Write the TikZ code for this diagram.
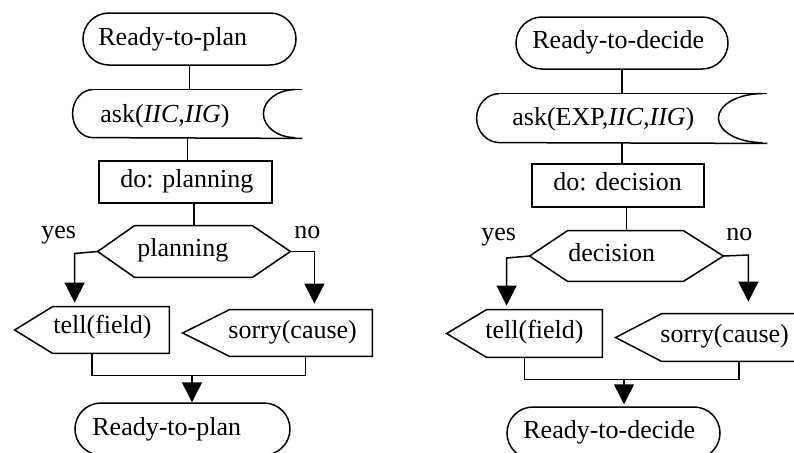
\documentclass[tikz,border=0pt]{standalone}
\usepackage{fontspec}
\setmainfont{Liberation Serif}
\usetikzlibrary{shapes.misc,arrows.meta,calc}

\tikzset{
  ln/.style={line width=0.75pt},
  term/.style={rounded rectangle, draw, ln, inner sep=0pt},
  box/.style={rectangle, draw, ln, inner sep=0pt},
  frame/.style={rectangle, inner sep=0pt, draw=none},
  txt/.style={inner sep=0pt, anchor=base west, font=\fontsize{13}{15}\selectfont},
  flow/.style={ln, -{Triangle[width=10pt,length=10pt]}},
}

\begin{document}
\begin{tikzpicture}[x=0.5pt, y=-0.5pt]
\useasboundingbox (0,0) rectangle (794,452);
\clip (0,0) rectangle (794,452);

% ---------------- planning flow ----------------
\node[term, minimum width=106.5pt, minimum height=26pt] (term1) at (189.5,39) {};
\node[frame, minimum width=114.5pt, minimum height=24pt] (ask1) at (187.5,114) {};
\node[box, minimum width=86.5pt, minimum height=21pt] (do1) at (185.5,182) {};
\node[frame, minimum width=96pt, minimum height=25.5pt] (hex1) at (194,251.5) {};
\node[frame, minimum width=77pt, minimum height=23pt] (tell1) at (92,330) {};
\node[frame, minimum width=94.5pt, minimum height=23pt] (sorry1) at (277.5,333) {};
\node[term, minimum width=107.5pt, minimum height=26pt] (term2) at (182.5,429) {};

% stored-data outline
\draw[ln] ($(ask1.north west)+(20,0)$) arc[start angle=90, end angle=270, x radius=10pt, y radius=12pt]
  -- (ask1.south east);
\draw[ln] ($(ask1.north west)+(20,0)$) -- (ask1.north east);
\draw[ln] ($(ask1.north east)+(-7,0)$) arc[start angle=90, end angle=270, x radius=16pt, y radius=12pt];
% decision hexagon
\draw[ln] (hex1.west) -- ($(hex1.north west)+(37,0)$) -- ($(hex1.north east)+(-38,0)$)
  -- (hex1.east) -- ($(hex1.south east)+(-38,0)$) -- ($(hex1.south west)+(37,0)$) -- cycle;
% output signals
\draw[ln] (tell1.west) -- ($(tell1.north west)+(38,0)$) -- (tell1.north east)
  -- (tell1.south east) -- ($(tell1.south west)+(38,0)$) -- cycle;
\draw[ln] (sorry1.west) -- ($(sorry1.north west)+(47,0)$) -- (sorry1.north east)
  -- (sorry1.south east) -- ($(sorry1.south west)+(47,0)$) -- cycle;

\node[txt] (term1-t) at (98,45) {Ready-to-plan};
\node[txt] (ask1-t) at (100,122) {ask(\textit{IIC},\textit{IIG})};
\node[txt] (do1-t) at (120,187) {do: planning};
\node[txt] (hex1-t) at (137,256) {planning};
\node[txt] (yes1) at (41,238) {yes};
\node[txt] (no1) at (294,238) {no};
\node[txt] (tell1-t) at (53,333) {tell(field)};
\node[txt] (sorry1-t) at (228,338) {sorry(cause)};
\node[txt] (term2-t) at (92,435) {Ready-to-plan};

\draw[ln] (term1.south) -- (term1.south |- ask1.north);
\draw[ln] (ask1.south) -- (ask1.south |- do1.north);
\draw[ln] (hex1.north |- do1.south) -- (hex1.north);
\draw[flow, shorten >=2pt] (hex1.west) -- ++(-23,2) coordinate (ya1) -- (ya1 |- tell1.north);
\draw[flow, shorten >=3pt] (hex1.east) -- ++(24,0) coordinate (na1) -- (na1 |- sorry1.north);
\coordinate (s1b) at ($(sorry1.south)+(28,0)$);
\draw[ln] (tell1.south) -- ++(0,22) coordinate (jl1) -- (jl1 -| s1b) -- (s1b);
\coordinate (m1) at (192,375);
\draw[flow] (m1) -- (m1 |- term2.north);

% ---------------- decision flow ----------------
\node[term, minimum width=106pt, minimum height=26pt] (term3) at (622,43) {};
\node[frame, minimum width=145pt, minimum height=24.5pt] (ask2) at (622,118.5) {};
\node[box, minimum width=86pt, minimum height=21.5pt] (do2) at (618,185.5) {};
\node[frame, minimum width=96.5pt, minimum height=25pt] (hex2) at (626.5,256) {};
\node[frame, minimum width=77.5pt, minimum height=23.5pt] (tell2) at (524.5,333.5) {};
\node[frame, minimum width=107pt, minimum height=23.5pt] (sorry2) at (723,337.5) {};
\node[term, minimum width=106.5pt, minimum height=26pt] (term4) at (613.5,433) {};

\draw[ln] ($(ask2.north west)+(23,0)$) arc[start angle=90, end angle=270, x radius=11.5pt, y radius=12.25pt]
  -- (ask2.south east);
\draw[ln] ($(ask2.north west)+(23,0)$) -- (ask2.north east);
\draw[ln] ($(ask2.north east)+(-5,0)$) arc[start angle=90, end angle=270, x radius=22pt, y radius=12.25pt];
\draw[ln] (hex2.west) -- ($(hex2.north west)+(38,0)$) -- ($(hex2.north east)+(-40,0)$)
  -- (hex2.east) -- ($(hex2.south east)+(-40,0)$) -- ($(hex2.south west)+(38,0)$) -- cycle;
\draw[ln] (tell2.west) -- ($(tell2.north west)+(40,0)$) -- (tell2.north east)
  -- (tell2.south east) -- ($(tell2.south west)+(40,0)$) -- cycle;
\draw[ln] (sorry2.west) -- ($(sorry2.north west)+(46,0)$) -- (sorry2.north east)
  -- (sorry2.south east) -- ($(sorry2.south west)+(46,0)$) -- cycle;

\node[txt] (term3-t) at (532,48) {Ready-to-decide};
\node[txt] (ask2-t) at (512,125) {ask(EXP,\textit{IIC},\textit{IIG})};
\node[txt] (do2-t) at (553,190) {do: decision};
\node[txt] (hex2-t) at (568,261) {decision};
\node[txt] (yes2) at (481,240) {yes};
\node[txt] (no2) at (726,240) {no};
\node[txt] (tell2-t) at (485,338) {tell(field)};
\node[txt] (sorry2-t) at (660,342) {sorry(cause)};
\node[txt] (term4-t) at (523,438) {Ready-to-decide};

\draw[ln] (term3.south) -- (term3.south |- ask2.north);
\draw[ln] (ask2.south) -- (ask2.south |- do2.north);
\draw[ln] (hex2.north |- do2.south) -- (hex2.north);
\draw[flow, shorten >=2pt] (hex2.west) -- ++(-23,2) coordinate (ya2) -- (ya2 |- tell2.north);
\draw[flow, shorten >=6pt] (hex2.east) -- ++(25,-1) coordinate (na2) -- (na2 |- sorry2.north);
\coordinate (s2b) at ($(sorry2.south)+(16,0)$);
\draw[ln] (tell2.south) -- ++(0,22) coordinate (jl2) -- (jl2 -| s2b) -- (s2b);
\coordinate (m2) at (624,379);
\draw[flow, shorten >=1pt] (m2) -- (m2 |- term4.north);
\end{tikzpicture}
\end{document}
